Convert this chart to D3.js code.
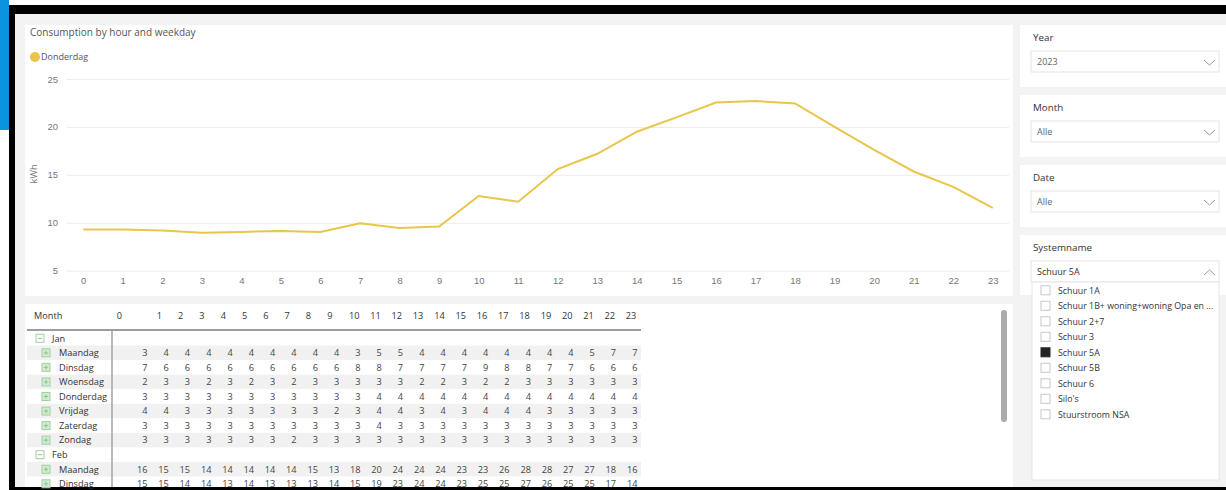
<!DOCTYPE html>
<html>
<head>
<meta charset="utf-8">
<script src="https://cdn.jsdelivr.net/npm/d3@7"></script>
<style>
  body { margin: 0; background: #fff; }
  svg { display: block; font-family: "Segoe UI", "Open Sans", sans-serif; }
</style>
</head>
<body>
<svg id="dash" width="1226" height="490"></svg>
<script>
// line chart data (Donderdag, kWh per hour)
var hours = [0, 1, 2, 3, 4, 5, 6, 7, 8, 9, 10, 11, 12, 13, 14, 15, 16, 17, 18, 19, 20, 21, 22, 23];
var donderdagKwh = [9.3, 9.3, 9.2, 8.95, 9.05, 9.15, 9.05, 9.95, 9.45, 9.6, 12.8, 12.2,
                    15.6, 17.2, 19.5, 21.0, 22.55, 22.7, 22.45, 20.0, 17.6, 15.35, 13.75, 11.55];
var yTicks = [5, 10, 15, 20, 25];

// matrix data
var weekdays = ["Maandag", "Dinsdag", "Woensdag", "Donderdag", "Vrijdag", "Zaterdag", "Zondag"];
var janValues = [
    [3, 4, 4, 4, 4, 4, 4, 4, 4, 4, 3, 5, 5, 4, 4, 4, 4, 4, 4, 4, 4, 5, 7, 7],
    [7, 6, 6, 6, 6, 6, 6, 6, 6, 6, 8, 8, 7, 7, 7, 7, 9, 8, 8, 7, 7, 6, 6, 6],
    [2, 3, 3, 2, 3, 2, 3, 2, 3, 3, 3, 3, 3, 2, 2, 3, 2, 2, 3, 3, 3, 3, 3, 3],
    [3, 3, 3, 3, 3, 3, 3, 3, 3, 3, 3, 4, 4, 4, 4, 4, 4, 4, 4, 4, 4, 4, 4, 4],
    [4, 4, 3, 3, 3, 3, 3, 3, 3, 2, 3, 4, 4, 3, 4, 3, 4, 4, 4, 3, 3, 3, 3, 3],
    [3, 3, 3, 3, 3, 3, 3, 3, 3, 3, 3, 4, 3, 3, 3, 3, 3, 3, 3, 3, 3, 3, 3, 3],
    [3, 3, 3, 3, 3, 3, 3, 2, 3, 3, 3, 3, 3, 3, 3, 3, 3, 3, 3, 3, 3, 3, 3, 3]
];
var febValues = [
    [16, 15, 15, 14, 14, 14, 14, 14, 15, 13, 18, 20, 24, 24, 24, 23, 23, 26, 28, 28, 27, 27, 18, 16],
    [15, 15, 14, 14, 13, 14, 13, 13, 13, 14, 15, 19, 23, 24, 24, 23, 25, 25, 27, 26, 25, 25, 17, 14]
];

// slicers
var slicers = [
    {title: "Year", value: "2023"},
    {title: "Month", value: "Alle"},
    {title: "Date", value: "Alle"},
    {title: "Systemname", value: "Schuur 5A"}
];
var systemNames = ["Schuur 1A", "Schuur 1B+ woning+woning Opa en ...", "Schuur 2+7", "Schuur 3",
                   "Schuur 5A", "Schuur 5B", "Schuur 6", "Silo's", "Stuurstroom NSA"];
var selectedSystem = "Schuur 5A";

var lineColor = "#E9C54A";
var svg = d3.select("#dash");

// ---- frame ----
svg.append("rect").attr("x", 0).attr("y", 0).attr("width", 9).attr("height", 130).attr("fill", "#0a93dc");
svg.append("rect").attr("x", 9).attr("y", 5).attr("width", 1217).attr("height", 485).attr("fill", "#000");
svg.append("rect").attr("x", 15).attr("y", 14).attr("width", 1211).attr("height", 473).attr("fill", "#f3f3f3");

// ---- line chart ----
svg.append("rect").attr("x", 25).attr("y", 25).attr("width", 988).attr("height", 271).attr("fill", "#fff");

svg.append("text").attr("x", 30).attr("y", 35.5).attr("font-size", 10).attr("fill", "#555")
    .text("Consumption by hour and weekday");

svg.append("circle").attr("cx", 35).attr("cy", 57).attr("r", 5).attr("fill", lineColor);
svg.append("text").attr("x", 41).attr("y", 60.3).attr("font-size", 9).attr("fill", "#555").text("Donderdag");

var gridLeft = 67, gridRight = 1009;
var x = d3.scalePoint().domain(hours).range([gridLeft, gridRight]).padding(0.41);
var y = d3.scaleLinear().domain([5, 25]).range([270.7, 79]);

var yAxis = svg.append("g")
    .attr("transform", "translate(" + gridLeft + ",0)")
    .call(d3.axisLeft(y).tickValues(yTicks).tickSize(-(gridRight - gridLeft)).tickPadding(9));
yAxis.select(".domain").remove();
yAxis.selectAll("line").attr("stroke", "#ececec");
yAxis.selectAll("text").attr("fill", "#777").attr("font-size", 9.5).attr("font-family", null);

var xAxis = svg.append("g")
    .attr("transform", "translate(0," + y(5) + ")")
    .call(d3.axisBottom(x).tickSize(0).tickPadding(6.8));
xAxis.select(".domain").remove();
xAxis.selectAll("text").attr("fill", "#777").attr("font-size", 9.5).attr("font-family", null);

svg.append("text").attr("transform", "translate(37,174) rotate(-90)").attr("text-anchor", "middle")
    .attr("font-size", 9.5).attr("fill", "#777").text("kWh");

var line = d3.line()
    .x(function(d, i) { return x(hours[i]); })
    .y(function(d) { return y(d); });

svg.append("path").datum(donderdagKwh)
    .attr("d", line)
    .attr("fill", "none")
    .attr("stroke", lineColor)
    .attr("stroke-width", 2);

// ---- matrix ----
svg.append("rect").attr("x", 25).attr("y", 304).attr("width", 988).attr("height", 183).attr("fill", "#fff");

var colRight = d3.scaleLinear().domain([0, 23]).range([147.5, 637.4]);
var rows = [];
[["Jan", janValues], ["Feb", febValues]].forEach(function(m) {
    rows.push({type: "month", label: m[0]});
    m[1].forEach(function(vals, i) { rows.push({type: "day", label: weekdays[i], values: vals}); });
});
var rowY = d3.scaleLinear().domain([0, 1]).range([338.3, 352.85]);

var table = svg.append("g").attr("font-size", 9.2);

table.selectAll("rect.band")
    .data(rows)
    .enter()
    .filter(function(d, i) { return i % 2 === 1; })
    .append("rect")
    .attr("class", "band")
    .attr("x", 27).attr("width", 614)
    .attr("y", function(d) { return rowY(rows.indexOf(d)) - 7.3; })
    .attr("height", 14.5)
    .attr("fill", "#f1f1f1");

// header
table.append("text").attr("x", 34).attr("y", 319.3).attr("fill", "#333").text("Month");
table.selectAll("text.hdr")
    .data(hours)
    .enter()
    .append("text")
    .attr("class", "hdr")
    .attr("x", function(h) {
        if (h === 0) return 119.5;
        return colRight(h) - 10.6 + (String(h).length === 1 ? 1.2 : 4.3);
    })
    .attr("y", 319.3)
    .attr("text-anchor", "middle")
    .attr("fill", "#333")
    .text(function(h) { return h; });

table.append("line").attr("x1", 27).attr("x2", 641).attr("y1", 330).attr("y2", 330)
    .attr("stroke", "#7d7d7d").attr("stroke-width", 1.5);
table.append("line").attr("x1", 112).attr("x2", 112).attr("y1", 331).attr("y2", 487)
    .attr("stroke", "#a3a3a3").attr("stroke-width", 1.5);

var rowG = table.selectAll("g.row")
    .data(rows)
    .enter()
    .append("g")
    .attr("class", "row")
    .attr("transform", function(d, i) { return "translate(0," + rowY(i) + ")"; });

// expand/collapse icons
rowG.append("rect")
    .attr("x", function(d) { return d.type === "month" ? 36 : 42; })
    .attr("y", -4).attr("width", 8).attr("height", 8)
    .attr("fill", function(d) { return d.type === "month" ? "#fff" : "#d4ecd4"; })
    .attr("stroke", "#9fd09f").attr("stroke-width", 1);
rowG.append("line")
    .attr("x1", function(d) { return d.type === "month" ? 37.8 : 43.8; })
    .attr("x2", function(d) { return d.type === "month" ? 42.2 : 48.2; })
    .attr("y1", 0).attr("y2", 0)
    .attr("stroke", "#8cc68c");
rowG.filter(function(d) { return d.type === "day"; })
    .append("line")
    .attr("x1", 46).attr("x2", 46).attr("y1", -2.2).attr("y2", 2.2)
    .attr("stroke", "#8cc68c");

rowG.append("text")
    .attr("x", function(d) { return d.type === "month" ? 52 : 59; })
    .attr("y", 3.3)
    .attr("fill", "#333")
    .text(function(d) { return d.label; });

rowG.filter(function(d) { return d.type === "day"; })
    .selectAll("text.val")
    .data(function(d) { return d.values; })
    .enter()
    .append("text")
    .attr("class", "val")
    .attr("x", function(v, i) { return colRight(i); })
    .attr("y", 3.3)
    .attr("text-anchor", "end")
    .attr("fill", "#444")
    .text(function(v) { return v; });

// scrollbar
svg.append("rect").attr("x", 1001).attr("y", 310).attr("width", 6).attr("height", 112)
    .attr("rx", 3).attr("fill", "#ababab");

// ---- slicers ----
var slicerTop = d3.scaleLinear().domain([0, 1]).range([25, 95]);
var slicerG = svg.selectAll("g.slicer")
    .data(slicers)
    .enter()
    .append("g")
    .attr("class", "slicer")
    .attr("transform", function(d, i) { return "translate(1020," + slicerTop(i) + ")"; });

slicerG.append("rect").attr("width", 206).attr("height", function(d, i) { return i === 3 ? 60 : 62; })
    .attr("fill", "#fff");
slicerG.append("text").attr("x", 13).attr("y", 15.5).attr("font-size", 9.8).attr("fill", "#333")
    .text(function(d) { return d.title; });
slicerG.append("rect").attr("x", 11).attr("y", 26).attr("width", 188).attr("height", 21)
    .attr("fill", "#fff").attr("stroke", "#e3e3e3");
slicerG.append("text").attr("x", 17).attr("y", 39.8).attr("font-size", 9)
    .attr("fill", function(d, i) { return i === 3 ? "#333" : "#666"; })
    .text(function(d) { return d.value; });
slicerG.append("path")
    .attr("d", function(d, i) { return i === 3 ? "M184,40 L189.5,35 L195,40" : "M184,35 L189.5,40 L195,35"; })
    .attr("fill", "none").attr("stroke", "#999").attr("stroke-width", 1);

// dropdown list
svg.append("clipPath").attr("id", "listClip")
    .append("rect").attr("x", 1032).attr("y", 282).attr("width", 184).attr("height", 198);
svg.append("rect").attr("x", 1032).attr("y", 282).attr("width", 187).attr("height", 198)
    .attr("fill", "#fff").attr("stroke", "#e6e6e6");
var itemY = d3.scaleLinear().domain([0, 1]).range([290.3, 305.8]);
var items = svg.append("g").attr("clip-path", "url(#listClip)")
    .selectAll("g.item")
    .data(systemNames)
    .enter()
    .append("g")
    .attr("class", "item")
    .attr("transform", function(d, i) { return "translate(0," + itemY(i) + ")"; });
items.append("rect").attr("x", 1041).attr("y", -4.5).attr("width", 9).attr("height", 9)
    .attr("fill", function(d) { return d === selectedSystem ? "#252423" : "#fff"; })
    .attr("stroke", function(d) { return d === selectedSystem ? "#252423" : "#c8c8c8"; });
items.append("text").attr("x", 1058).attr("y", 3.2).attr("font-size", 8.8).attr("fill", "#333")
    .text(function(d) { return d; });
</script>
</body>
</html>
